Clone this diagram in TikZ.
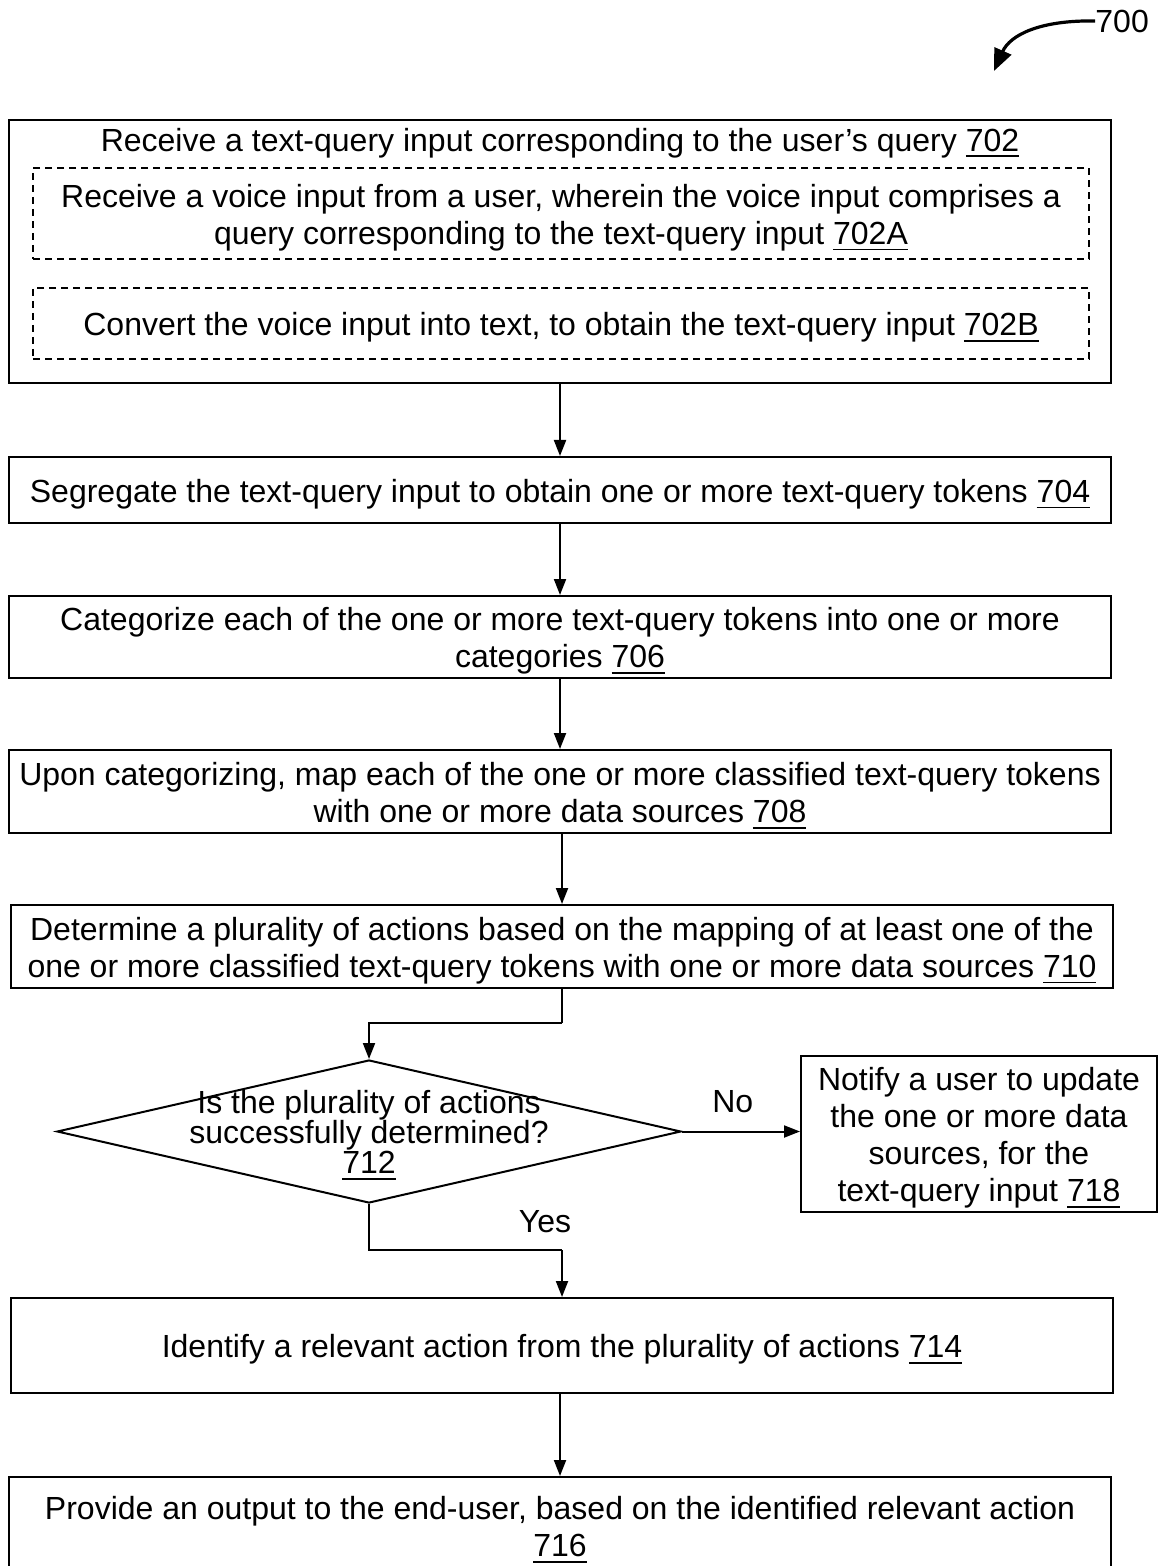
\documentclass[tikz,border=0pt]{standalone}
\usepackage{fontspec}
\setmainfont{Liberation Sans}
\usetikzlibrary{shapes.geometric,arrows.meta}

% reference numbers are underlined with a slightly heavier rule
\newcommand{\refnum}[1]{\setbox0\hbox{#1}\rlap{\rule[-3pt]{\wd0}{0.9pt}}\box0}
% a tall invisible strut on the first line sets the box text a little lower
\newcommand{\topstrut}{\rule{0pt}{15.7pt}}

\begin{document}
\begin{tikzpicture}[x=0.5pt,y=-0.5pt,
  txt/.style={font=\fontsize{16pt}{18.5pt}\selectfont, align=center, inner sep=0pt},
  stepbox/.style={draw, line width=1pt, rectangle, inner sep=0pt, minimum width=551pt,
                  font=\fontsize{16pt}{18.5pt}\selectfont, align=center},
  subbox/.style={draw, line width=1pt, dash pattern=on 3.5pt off 2.5pt, rectangle,
                 inner sep=0pt, minimum width=528pt, minimum height=45.5pt,
                 font=\fontsize{16pt}{18.5pt}\selectfont, align=center},
  arr/.style={line width=1pt, -{Triangle[length=8pt,width=6pt]}},
  wire/.style={line width=1pt}
]
\clip (0,0) rectangle (1158,1566);
\fill[white] (0,0) rectangle (1158,1566);

% figure number with its curved pointer
\node[txt, anchor=west] (fig) at (1095,21) {700};
\coordinate (figtip) at (994,71);
\draw[line width=1.6pt, -{Triangle[length=11pt,width=9pt]}]
  (fig.west) .. controls (1040,20) and (1010,35) .. (figtip);

% step 702 with its two optional sub-steps
\node[draw, line width=1pt, rectangle, inner sep=0pt, minimum width=551pt, minimum height=131.5pt] (n702) at (560,251.5) {};
\node[txt] (t702) at (560,143) {Receive a text-query input corresponding to the user’s query \refnum{702}};
\node[subbox] (n702a) at (561,213.5) {\topstrut Receive a voice input from a user, wherein the voice input comprises a\\query corresponding to the text-query input \refnum{702A}};
\node[subbox, minimum height=35.5pt] (n702b) at (561,323.5) {\topstrut Convert the voice input into text, to obtain the text-query input \refnum{702B}};

\node[stepbox, minimum height=33pt] (n704) at (560,490) {\topstrut Segregate the text-query input to obtain one or more text-query tokens \refnum{704}};
\node[stepbox, minimum height=41pt] (n706) at (560,637) {\topstrut Categorize each of the one or more text-query tokens into one or more\\categories \refnum{706}};
\node[stepbox, minimum height=41.5pt] (n708) at (560,791.5) {\topstrut Upon categorizing, map each of the one or more classified text-query tokens\\with one or more data sources \refnum{708}};
\node[stepbox, minimum height=41.5pt] (n710) at (562,946.5) {\topstrut Determine a plurality of actions based on the mapping of at least one of the\\one or more classified text-query tokens with one or more data sources \refnum{710}};

% decision 712
\node[draw, line width=1pt, diamond, inner sep=0pt, minimum width=312pt, minimum height=71.5pt] (d712) at (369,1131.5) {};
\node[txt, font=\fontsize{16pt}{15pt}\selectfont] (t712) at (369,1135) {Is the plurality of actions\\successfully determined?\\\refnum{712}};

\node[draw, line width=1pt, rectangle, inner sep=0pt, minimum width=178pt, minimum height=78pt,
      font=\fontsize{16pt}{18.5pt}\selectfont, align=center] (n718) at (979,1134)
  {\topstrut Notify a user to update\\the one or more data\\sources, for the\\text-query input \refnum{718}};

\node[stepbox, minimum height=47.5pt] (n714) at (562,1345.5) {\topstrut Identify a relevant action from the plurality of actions \refnum{714}};
\node[stepbox, minimum height=48.5pt] (n716) at (560,1525.5) {\topstrut Provide an output to the end-user, based on the identified relevant action\\\refnum{716}};

% connectors
\draw[arr] (n702.south) -- (n704.north);
\draw[arr] (n704.south) -- (n706.north);
\draw[arr] (n706.south) -- (n708.north);
\draw[arr] (n708.south -| n710.north) -- (n710.north);
\coordinate (j710) at (562,1023);
\draw[wire] (n710.south) -- (j710);
\draw[arr] (j710) -| (d712.north);
\draw[arr] (d712.east) -- (d712.east -| n718.west) node[txt, pos=0.43, above=9pt] (lno) {No};
\coordinate (j712) at (562,1250);
\draw[wire] (d712.south) |- (j712);
\draw[arr] (j712) -- (n714.north);
\node[txt] (lyes) at (545,1222) {Yes};
\draw[arr] (n714.south -| n716.north) -- (n716.north);
\end{tikzpicture}
\end{document}
